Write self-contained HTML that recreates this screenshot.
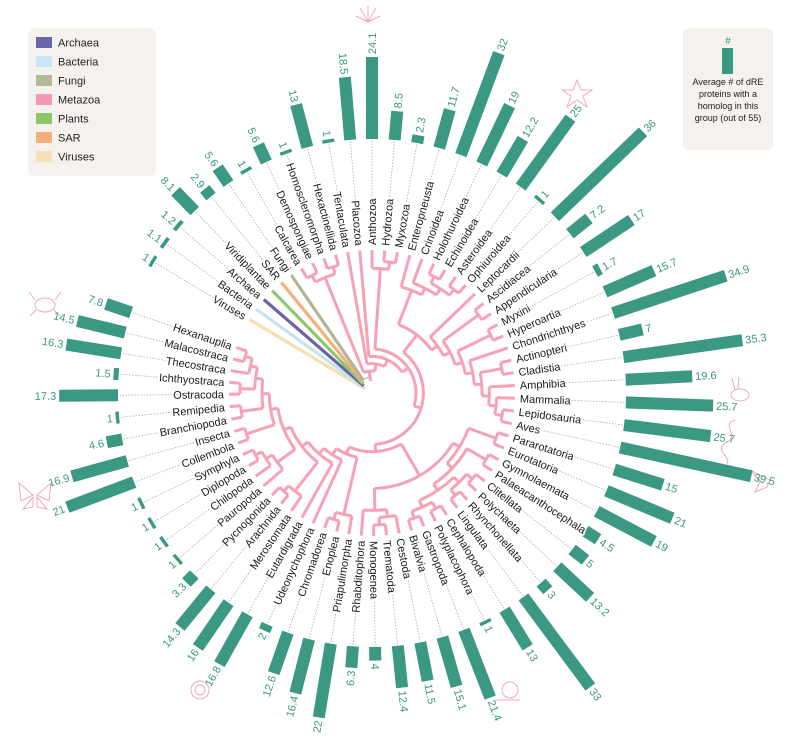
<!DOCTYPE html>
<html><head><meta charset="utf-8"><style>
body{margin:0;background:#fff;width:800px;height:753px;overflow:hidden}
svg{display:block}
text{font-family:"Liberation Sans",sans-serif}
</style></head><body>
<svg id="s" width="800" height="753" viewBox="0 0 800 753" xmlns="http://www.w3.org/2000/svg">
<rect x="28" y="28" width="128" height="148" rx="6" fill="#f5f1ec"/>
<rect x="36" y="37" width="16" height="11" fill="#6a64a8"/><text x="58" y="46.5" font-size="11" fill="#222">Archaea</text>
<rect x="36" y="56" width="16" height="11" fill="#c8e6f3"/><text x="58" y="65.5" font-size="11" fill="#222">Bacteria</text>
<rect x="36" y="75" width="16" height="11" fill="#b4b99a"/><text x="58" y="84.5" font-size="11" fill="#222">Fungi</text>
<rect x="36" y="94" width="16" height="11" fill="#f59bb0"/><text x="58" y="103.5" font-size="11" fill="#222">Metazoa</text>
<rect x="36" y="113" width="16" height="11" fill="#8dc66b"/><text x="58" y="122.5" font-size="11" fill="#222">Plants</text>
<rect x="36" y="132" width="16" height="11" fill="#f6ae7b"/><text x="58" y="141.5" font-size="11" fill="#222">SAR</text>
<rect x="36" y="151" width="16" height="11" fill="#f6e1b5"/><text x="58" y="160.5" font-size="11" fill="#222">Viruses</text>
<rect x="683" y="28" width="90" height="122" rx="6" fill="#f5f1ec"/>
<text x="728" y="44" font-size="10" fill="#3a9883" text-anchor="middle">#</text>
<rect x="722" y="48" width="11" height="26" fill="#3a9883"/>
<text font-size="9" fill="#222" text-anchor="middle"><tspan x="728" y="85">Average # of dRE</tspan><tspan x="728" y="97">proteins with a</tspan><tspan x="728" y="109">homolog in this</tspan><tspan x="728" y="121">group (out of 55)</tspan></text>
<g fill="none" stroke="#f5a7b8" stroke-width="1">
<ellipse cx="45" cy="305" rx="10" ry="7"/><path d="M35 300 l-6 -8 M55 300 l6 -8 M36 310 l-6 6 M54 310 l6 6"/>
<path d="M33 495 l-14 -12 l2 18 z M37 495 l14 -12 l-2 18 z M33 497 l-10 12 l10 -2 z M37 497 l10 12 l-10 -2 z"/>
<path d="M368 22 l-8 -14 M368 22 l0 -16 M368 22 l8 -14 M368 22 l-12 -6 M368 22 l12 -6"/>
<path d="M577 80 l4 10 l11 0 l-9 6 l4 11 l-10 -7 l-10 7 l4 -11 l-9 -6 l11 0 z"/>
<ellipse cx="740" cy="395" rx="9" ry="6"/><path d="M735 390 l-3 -12 M738 389 l1 -12"/>
<path d="M735 420 c-15 5 5 15 -8 22 c-15 8 5 15 0 22"/>
<path d="M770 480 l-20 -10 l10 12 l-5 10 l12 -5 z"/>
<circle cx="200" cy="690" r="9"/><circle cx="200" cy="690" r="5"/>
<circle cx="510" cy="690" r="8"/><path d="M495 700 l25 0"/>
</g>
<g id="g"></g>
</svg>
<script>
var cx=372,cy=393,RL=143,RB=254,SC=3.4;
var leaves=["Viruses","Bacteria","Archaea","Viridiplantae","SAR","Fungi","Calcarea","Demospongiae","Homoscleromorpha","Hexactinellida","Tentaculata","Placozoa","Anthozoa","Hydrozoa","Myxozoa","Enteropneusta","Crinoidea","Holothuroidea","Echinoidea","Asteroidea","Ophiuroidea","Leptocardii","Ascidiacea","Appendicularia","Myxini","Hyperoartia","Chondrichthyes","Actinopteri","Cladistia","Amphibia","Mammalia","Lepidosauria","Aves","Pararotatoria","Eurotatoria","Gymnolaemata","Palaeacanthocephala","Clitellata","Polychaeta","Rhynchonellata","Lingulata","Cephalopoda","Polyplacophora","Gastropoda","Bivalvia","Cestoda","Trematoda","Monogenea","Rhabditophora","Priapulimorpha","Enoplea","Chromadorea","Udeonychophora","Eutardigrada","Merostomata","Arachnida","Pycnogonida","Pauropoda","Chilopoda","Diplopoda","Symphyla","Collembola","Insecta","Branchiopoda","Remipedia","Ostracoda","Ichthyostraca","Thecostraca","Malacostraca","Hexanauplia"];
var vals=[1,1.1,1.2,8.1,2.9,5.6,1,5.6,1,13,1,18.5,24.1,8.5,2.3,11.7,32,19,12.2,25,1,36,7.2,17,1.7,15.7,34.9,7,35.3,19.6,25.7,25.7,39.5,15,21,19,4.5,5,13.2,3,33,13,1,21.4,15.1,11.5,12.4,4,6.3,22,16.4,12.6,2,16.8,16,14.3,3.3,1,1,1,1,21,16.9,4.6,1,17.3,1.5,16.3,14.5,7.8];
var cols=["#f4dfb2","#c5e3f0","#6a64a8","#8dc66b","#f6ae7b","#b0b597"];
var Deut=[["Enteropneusta",["Crinoidea",[["Holothuroidea","Echinoidea"],["Asteroidea","Ophiuroidea"]]]],["Leptocardii",[["Ascidiacea","Appendicularia"],[["Myxini","Hyperoartia"],["Chondrichthyes",[["Actinopteri","Cladistia"],["Amphibia",["Mammalia",["Lepidosauria","Aves"]]]]]]]]];
var Spir=[[["Pararotatoria","Eurotatoria"],[["Gymnolaemata","Palaeacanthocephala"],[[["Clitellata","Polychaeta"],["Rhynchonellata","Lingulata"]],[["Cephalopoda","Polyplacophora"],["Gastropoda","Bivalvia"]]]]],[["Cestoda",["Trematoda","Monogenea"]],"Rhabditophora"]];
var Ecd=[["Priapulimorpha",["Enoplea","Chromadorea"]],["Udeonychophora",["Eutardigrada",[["Merostomata",["Arachnida","Pycnogonida"]],[["Pauropoda",["Chilopoda",["Diplopoda","Symphyla"]]],[["Collembola","Insecta"],[["Branchiopoda","Remipedia"],[["Ostracoda","Ichthyostraca"],["Thecostraca",["Malacostraca","Hexanauplia"]]]]]]]]]];
var T=[[["Calcarea","Demospongiae"],["Homoscleromorpha","Hexactinellida"]],["Tentaculata",["Placozoa",[["Anthozoa",["Hydrozoa","Myxozoa"]],[Deut,[Spir,Ecd]]]]]];
var AK=[[0,149],[12,90],[29,3],[47,-89.3],[65,-179.5],[69,-198.5]];
function ang(i){for(var k=0;k<AK.length-1;k++){if(i<=AK[k+1][0]){var t=(i-AK[k][0])/(AK[k+1][0]-AK[k][0]);return AK[k][1]+t*(AK[k+1][1]-AK[k][1]);}}return AK[AK.length-1][1];}
function P(r,a){var t=a*Math.PI/180;return [cx+r*Math.cos(t),cy-r*Math.sin(t)];}
function ht(n){if(typeof n=="string")return 0;var m=0;n.forEach(function(c){m=Math.max(m,ht(c));});return m+1;}
var H=ht(T),out="";
function rad(n){if(typeof n=="string")return RL;return 22+(RL-22)*(1-ht(n)/H)*0.97;}
function A(n){if(typeof n=="string")return ang(leaves.indexOf(n));var a=A(n[0]),b=A(n[n.length-1]);return (a+b)/2;}
var PK="#f7a1b6";
function draw(n){if(typeof n=="string")return;var r=rad(n);var a1=A(n[0]),a2=A(n[n.length-1]);
var p1=P(r,a1),p2=P(r,a2);var lg=Math.abs(a1-a2)>180?1:0;
out+='<path d="M'+p1[0]+' '+p1[1]+' A'+r+' '+r+' 0 '+lg+' 1 '+p2[0]+' '+p2[1]+'" fill="none" stroke="'+PK+'" stroke-width="3"/>';
n.forEach(function(c){var a=A(c),q1=P(r,a),q2=P(rad(c),a);out+='<line x1="'+q1[0]+'" y1="'+q1[1]+'" x2="'+q2[0]+'" y2="'+q2[1]+'" stroke="'+PK+'" stroke-width="3"/>';draw(c);});}
var ra=rad(T),am=A(T),s0=P(12,am),s1=P(ra,am);
out+='<path d="M'+P(16,150)[0]+' '+P(16,150)[1]+' A16 16 0 0 1 '+P(16,am)[0]+' '+P(16,am)[1]+'" fill="none" stroke="#bbb" stroke-width="1.2"/>';
out+='<line x1="'+s0[0]+'" y1="'+s0[1]+'" x2="'+s1[0]+'" y2="'+s1[1]+'" stroke="'+PK+'" stroke-width="3"/>';
draw(T);
for(var i=0;i<6;i++){var a=ang(i),p=P(8+i*1.5,a),q=P(RL,a);out+='<line x1="'+p[0]+'" y1="'+p[1]+'" x2="'+q[0]+'" y2="'+q[1]+'" stroke="'+cols[i]+'" stroke-width="3.2"/>';}
var lab="";
for(var i=0;i<70;i++){var a=ang(i),d1=P(RL+6,a),d2=P(RB,a);
out+='<line x1="'+d1[0]+'" y1="'+d1[1]+'" x2="'+d2[0]+'" y2="'+d2[1]+'" stroke="#aaa" stroke-width="0.8" stroke-dasharray="1.5 1.5"/>';
var L=vals[i]*SC;var left=(a>90||a<-90);
lab+='<g transform="translate('+cx+' '+cy+') rotate('+(-a)+')">';
lab+='<rect x="'+RB+'" y="-6" width="'+L+'" height="12" fill="#3a9883"/>';
if(!left){lab+='<text x="'+(RL+5)+'" y="4" font-size="11" fill="#1a1a1a" stroke="#fff" stroke-width="3" paint-order="stroke">'+leaves[i]+'</text>';
lab+='<text x="'+(RB+L+3)+'" y="4" font-size="11" fill="#3a9883">'+vals[i]+'</text>';}
else{lab+='<text transform="translate('+(RL+5)+' 0) rotate(180)" y="4" text-anchor="end" font-size="11" fill="#1a1a1a" stroke="#fff" stroke-width="3" paint-order="stroke">'+leaves[i]+'</text>';
lab+='<text transform="translate('+(RB+L+3)+' 0) rotate(180)" y="4" text-anchor="end" font-size="11" fill="#3a9883">'+vals[i]+'</text>';}
lab+='</g>';}
document.getElementById("g").innerHTML=out+lab;
</script>
</body></html>
